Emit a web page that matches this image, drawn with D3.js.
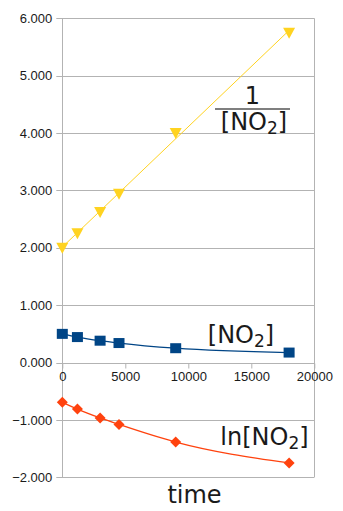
<!DOCTYPE html>
<html>
<head>
<meta charset="utf-8">
<script src="https://cdn.jsdelivr.net/npm/d3@7"></script>
<style>
  html, body { margin: 0; padding: 0; background: #fff; }
  svg { display: block; }
</style>
</head>
<body>
<svg id="chart" width="343" height="511"></svg>
<script>
// ---- data ----
const times = [0, 1200, 3000, 4500, 9000, 18000];
const conc = [0.500, 0.444, 0.381, 0.340, 0.250, 0.174];        // [NO2]
const lnConc = [-0.693, -0.811, -0.965, -1.079, -1.386, -1.749]; // ln[NO2]
const invConc = [2.000, 2.252, 2.625, 2.941, 4.000, 5.747];      // 1/[NO2]
const yTicks = [-2, -1, 0, 1, 2, 3, 4, 5, 6];
const xTicks = [0, 5000, 10000, 15000, 20000];
const xTitle = "time";

// ---- layout ----
const W = 343, H = 511;
const m = { left: 62.3, right: 28.7, top: 18.3, bottom: 33.7 };
const svg = d3.select("#chart");
const x = d3.scaleLinear().domain([0, 20000]).range([m.left, W - m.right]);
const y = d3.scaleLinear().domain([-2, 6]).range([H - m.bottom, m.top]);
const grid = "#b3b3b3";

// horizontal grid lines + y tick marks
svg.append("g").selectAll("line").data(yTicks).join("line")
  .attr("x1", m.left - 6).attr("x2", x(20000))
  .attr("y1", d => Math.round(y(d)) + 0.5).attr("y2", d => Math.round(y(d)) + 0.5)
  .attr("stroke", grid).attr("stroke-width", 1);

// vertical frame lines (left & right)
svg.append("g").selectAll("line").data([0, 20000]).join("line")
  .attr("x1", d => Math.round(x(d)) + 0.5).attr("x2", d => Math.round(x(d)) + 0.5)
  .attr("y1", y(6)).attr("y2", y(-2))
  .attr("stroke", grid).attr("stroke-width", 1);

// x axis at y=0 with downward ticks
const xAxisG = svg.append("g")
  .attr("transform", `translate(0,${Math.round(y(0)) + 0.5})`)
  .call(d3.axisBottom(x).tickValues(xTicks).tickSize(5).tickSizeOuter(0).tickFormat(d3.format("d")));
xAxisG.select(".domain").remove();
xAxisG.selectAll(".tick line").attr("stroke", grid);
xAxisG.selectAll(".tick text")
  .attr("y", 17).attr("dy", "0")
  .attr("fill", "#1a1a1a")
  .style("font-family", "'Liberation Sans', Arial, sans-serif")
  .style("font-size", "13px");

// y axis labels
const yAxisG = svg.append("g")
  .attr("transform", `translate(${m.left},0)`)
  .call(d3.axisLeft(y).tickValues(yTicks).tickSize(0).tickPadding(10).tickFormat(d3.format(".3f")));
yAxisG.select(".domain").remove();
yAxisG.selectAll(".tick text")
  .attr("fill", "#1a1a1a")
  .style("font-family", "'Liberation Sans', Arial, sans-serif")
  .style("font-size", "13px");

// ---- series ----
const series = [
  { values: invConc, color: "#ffd320", width: 1, shape: "tri", fit: true },
  { values: conc, color: "#004586", width: 1.3, shape: "square", fit: false },
  { values: lnConc, color: "#ff420e", width: 1.3, shape: "diamond", fit: false }
];

const line = d3.line().x(d => x(d[0])).y(d => y(d[1])).curve(d3.curveMonotoneX);

series.forEach(s => {
  const pts = times.map((t, i) => [t, s.values[i]]);
  let linePts = pts;
  if (s.fit) {
    // least-squares straight line through the series
    const mt = d3.mean(times), mv = d3.mean(s.values);
    const sxy = d3.sum(times, (t, i) => (t - mt) * (s.values[i] - mv));
    const sxx = d3.sum(times, t => (t - mt) * (t - mt));
    const k = sxy / sxx, b = mv - k * mt;
    const ext = d3.extent(times);
    linePts = ext.map(t => [t, b + k * t]);
  }
  svg.append("path").datum(linePts)
    .attr("d", s.fit ? d3.line().x(d => x(d[0])).y(d => y(d[1])) : line)
    .attr("fill", "none")
    .attr("stroke", s.color).attr("stroke-width", s.width);
  const g = svg.append("g");
  pts.forEach(p => {
    const cx = x(p[0]), cy = y(p[1]);
    if (s.shape === "square") {
      g.append("rect").attr("x", cx - 5.5).attr("y", cy - 5).attr("width", 11).attr("height", 10).attr("fill", s.color);
    } else if (s.shape === "diamond") {
      g.append("path").attr("d", `M${cx},${cy - 5.5}L${cx + 5.5},${cy}L${cx},${cy + 5.5}L${cx - 5.5},${cy}Z`).attr("fill", s.color);
    } else {
      g.append("path").attr("d", `M${cx - 6},${cy - 5}L${cx + 6},${cy - 5}L${cx},${cy + 6}Z`).attr("fill", s.color);
    }
  });
});

// ---- annotations ----
const labFont = "'DejaVu Sans', sans-serif";
const labColor = "#1a1a1a";
function chem(sel, prefix) {
  sel.append("tspan").text(prefix + "[NO");
  sel.append("tspan").attr("dy", 4).style("font-size", "17px").text("2");
  sel.append("tspan").attr("dy", -4).text("]");
}
// fraction 1/[NO2]
svg.append("text").attr("x", 252.5).attr("y", 103.5).attr("text-anchor", "middle")
  .style("font-family", labFont).style("font-size", "24px").attr("fill", labColor).text("1");
svg.append("line").attr("x1", 215).attr("x2", 290).attr("y1", 109).attr("y2", 109)
  .attr("stroke", "#555").attr("stroke-width", 1.5);
chem(svg.append("text").attr("x", 254).attr("y", 130).attr("text-anchor", "middle")
  .style("font-family", labFont).style("font-size", "24px").attr("fill", labColor), "");
// [NO2]
chem(svg.append("text").attr("x", 241).attr("y", 343).attr("text-anchor", "middle")
  .style("font-family", labFont).style("font-size", "24px").attr("fill", labColor), "");
// ln[NO2]
chem(svg.append("text").attr("x", 264.5).attr("y", 445).attr("text-anchor", "middle")
  .style("font-family", labFont).style("font-size", "24px").attr("fill", labColor), "ln");
// axis title
svg.append("text").attr("x", 194.5).attr("y", 503).attr("text-anchor", "middle")
  .style("font-family", labFont).style("font-size", "24px").attr("fill", labColor).text(xTitle);
</script>
</body>
</html>
